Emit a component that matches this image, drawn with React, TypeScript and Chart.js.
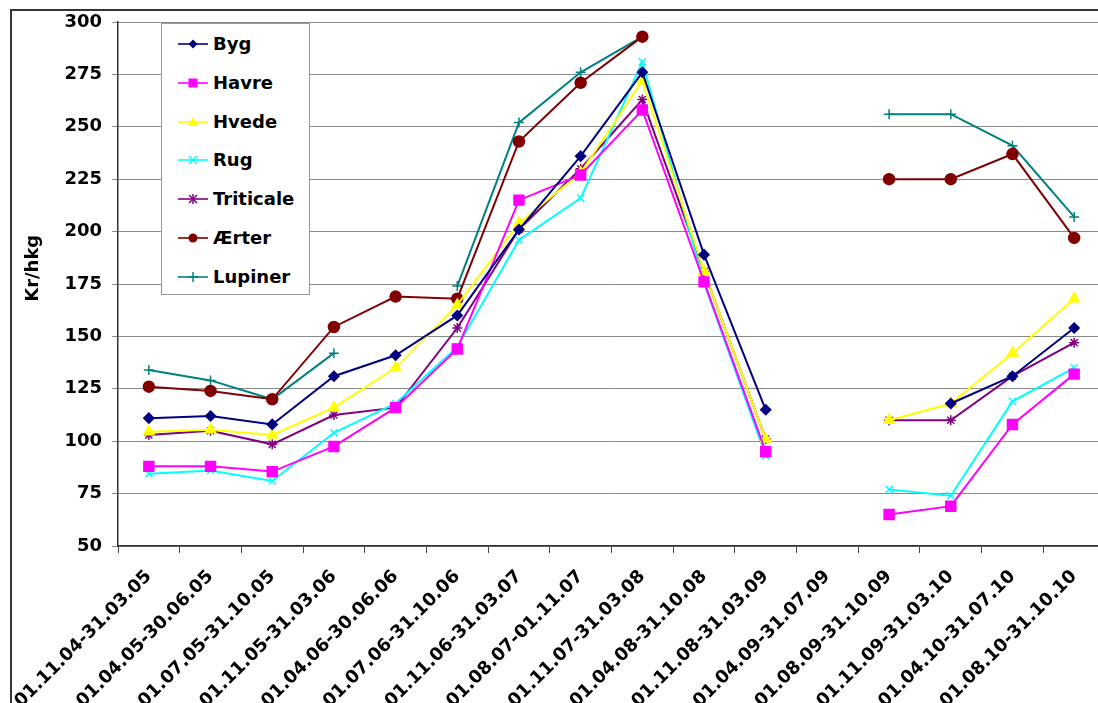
import React, { useEffect, useRef } from 'react';
import { Chart, registerables } from 'chart.js';

Chart.register(...registerables);

const categories = [
  '01.11.04-31.03.05', '01.04.05-30.06.05', '01.07.05-31.10.05', '01.11.05-31.03.06',
  '01.04.06-30.06.06', '01.07.06-31.10.06', '01.11.06-31.03.07', '01.08.07-01.11.07',
  '01.11.07-31.03.08', '01.04.08-31.10.08', '01.11.08-31.03.09', '01.04.09-31.07.09',
  '01.08.09-31.10.09', '01.11.09-31.03.10', '01.04.10-31.07.10', '01.08.10-31.10.10',
];

const byg = [111, 112, 108, 131, 141, 160, 201, 236, 276, 189, 115, null, null, 118, 131, 154];
const havre = [88, 88, 85.5, 97.5, 116, 144, 215, 227, 258, 176, 95, null, 65, 69, 108, 132];
const hvede = [104.5, 105.5, 103, 116, 135, 165, 204, 228, 272, 181, 101, null, 110, 118, 142, 168];
const rug = [84.5, 86, 81, 104, 118, 145, 196, 216, 281, 175.5, 93, null, 77, 74, 119, 135];
const triticale = [103, 105, 98.5, 112.5, 116, 154, 201, 230, 263, 181, 101, null, 110, 110, 131, 147];
const aerter = [126, 124, 120, 154.5, 169, 168, 243, 271, 293, null, null, null, 225, 225, 237, 197];
const lupiner = [134, 129, 120, 142, null, 174, 252, 276, 293, null, null, null, 256, 256, 241, 207];

const seriesNames = ['Byg', 'Havre', 'Hvede', 'Rug', 'Triticale', 'Ærter', 'Lupiner'];
const seriesData = [byg, havre, hvede, rug, triticale, aerter, lupiner];
const seriesColors = ['#000080', '#FF00FF', '#FFFF00', '#00FFFF', '#800080', '#800000', '#008080'];
const seriesStyles = ['rectRot', 'rect', 'triangle', 'crossRot', 'star', 'circle', 'cross'];
const seriesRadius = [5, 7, 6, 5, 5, 5.5, 5];

const yMin = 50;
const yMax = 300;
const yStep = 25;
const yTitle = 'Kr/hkg';

const FONT = "'DejaVu Sans', Verdana, sans-serif";

const yTitlePlugin = {
  id: 'yTitlePlugin',
  afterDraw(chart: any) {
    const { ctx, chartArea } = chart;
    ctx.save();
    ctx.font = `bold 18px ${FONT}`;
    ctx.fillStyle = '#000';
    ctx.textAlign = 'center';
    ctx.textBaseline = 'middle';
    ctx.translate(33, chartArea.top + (chartArea.bottom - chartArea.top) * 0.47);
    ctx.rotate(-Math.PI / 2);
    ctx.fillText(yTitle, 0, 0);
    ctx.restore();
  },
};

function Marker({ style, color }: { style: string; color: string }) {
  const cx = 15;
  const cy = 7;
  let shape: React.ReactNode = null;
  if (style === 'rectRot') {
    shape = <polygon points={`${cx},${cy - 4.5} ${cx + 4.5},${cy} ${cx},${cy + 4.5} ${cx - 4.5},${cy}`} fill={color} />;
  } else if (style === 'rect') {
    shape = <rect x={cx - 4.5} y={cy - 4.5} width={9} height={9} fill={color} />;
  } else if (style === 'triangle') {
    shape = <polygon points={`${cx},${cy - 5} ${cx + 5},${cy + 4} ${cx - 5},${cy + 4}`} fill={color} />;
  } else if (style === 'crossRot') {
    shape = (
      <g stroke={color} strokeWidth={1.5}>
        <line x1={cx - 4} y1={cy - 4} x2={cx + 4} y2={cy + 4} />
        <line x1={cx - 4} y1={cy + 4} x2={cx + 4} y2={cy - 4} />
      </g>
    );
  } else if (style === 'star') {
    shape = (
      <g stroke={color} strokeWidth={1.5}>
        <line x1={cx - 4} y1={cy - 4} x2={cx + 4} y2={cy + 4} />
        <line x1={cx - 4} y1={cy + 4} x2={cx + 4} y2={cy - 4} />
        <line x1={cx} y1={cy - 5} x2={cx} y2={cy + 5} />
      </g>
    );
  } else if (style === 'circle') {
    shape = <circle cx={cx} cy={cy} r={4.5} fill={color} />;
  } else if (style === 'cross') {
    shape = (
      <g stroke={color} strokeWidth={1.5}>
        <line x1={cx} y1={cy - 5} x2={cx} y2={cy + 5} />
        <line x1={cx - 5} y1={cy} x2={cx + 5} y2={cy} />
      </g>
    );
  }
  return (
    <svg width={30} height={14} style={{ display: 'block' }}>
      <line x1={0} y1={cy} x2={30} y2={cy} stroke={color} strokeWidth={1.6} />
      {shape}
    </svg>
  );
}

export default function App() {
  const ref = useRef<HTMLCanvasElement | null>(null);

  useEffect(() => {
    if (!ref.current) return;
    const chart = new Chart(ref.current, {
      type: 'line',
      data: {
        labels: categories,
        datasets: seriesNames.map((name, i) => ({
          label: name,
          data: seriesData[i],
          borderColor: seriesColors[i],
          backgroundColor: seriesColors[i],
          pointBackgroundColor: seriesColors[i],
          pointBorderColor: seriesColors[i],
          pointStyle: seriesStyles[i] as any,
          pointRadius: seriesRadius[i],
          pointBorderWidth: 1.5,
          borderWidth: 2,
          tension: 0,
          spanGaps: false,
        })),
      },
      options: {
        responsive: false,
        animation: false,
        devicePixelRatio: 1,
        layout: { padding: { left: 0, top: 22, right: 20, bottom: 0 } },
        plugins: { legend: { display: false }, tooltip: { enabled: false } },
        scales: {
          x: {
            type: 'category',
            offset: true,
            grid: { offset: true, drawOnChartArea: false, drawTicks: true, tickLength: 7, color: '#444', lineWidth: 1 },
            border: { color: '#333', width: 1.5 },
            ticks: {
              autoSkip: false,
              maxRotation: 45,
              minRotation: 45,
              padding: 13,
              color: '#000',
              font: { family: FONT, size: 18, weight: 'bold' },
            },
            afterFit: (s: any) => { s.height = 234; },
          },
          y: {
            min: yMin,
            max: yMax,
            ticks: {
              stepSize: yStep,
              padding: 10,
              color: '#000',
              font: { family: FONT, size: 18, weight: 'bold' },
            },
            grid: { color: '#8a8a8a', lineWidth: 1, tickLength: 6 },
            border: { color: '#333', width: 1.5 },
            afterFit: (s: any) => { s.width = 118; },
          },
        },
      },
      plugins: [yTitlePlugin],
    });
    return () => chart.destroy();
  }, []);

  return (
    <div style={{ position: 'fixed', left: 0, top: 0, width: 1098, height: 703, overflow: 'hidden', background: '#fff' }}>
      <div style={{ position: 'absolute', left: 10, top: 9, width: 1300, height: 900, border: '2px solid #333' }} />
      <canvas ref={ref} width={1125} height={780} style={{ position: 'absolute', left: 0, top: 0, width: 1125, height: 780 }} />
      <div
        style={{
          position: 'absolute', left: 161, top: 23, width: 147, height: 270,
          border: '1px solid #999', background: '#fff', fontFamily: FONT,
        }}
      >
        {seriesNames.map((name, i) => (
          <div
            key={name}
            style={{ position: 'absolute', left: 16, top: 10 + i * 38.8, height: 20, display: 'flex', alignItems: 'center' }}
          >
            <Marker style={seriesStyles[i]} color={seriesColors[i]} />
            <span style={{ marginLeft: 5, fontSize: 18, fontWeight: 'bold', color: '#000', lineHeight: '20px' }}>{name}</span>
          </div>
        ))}
      </div>
    </div>
  );
}
